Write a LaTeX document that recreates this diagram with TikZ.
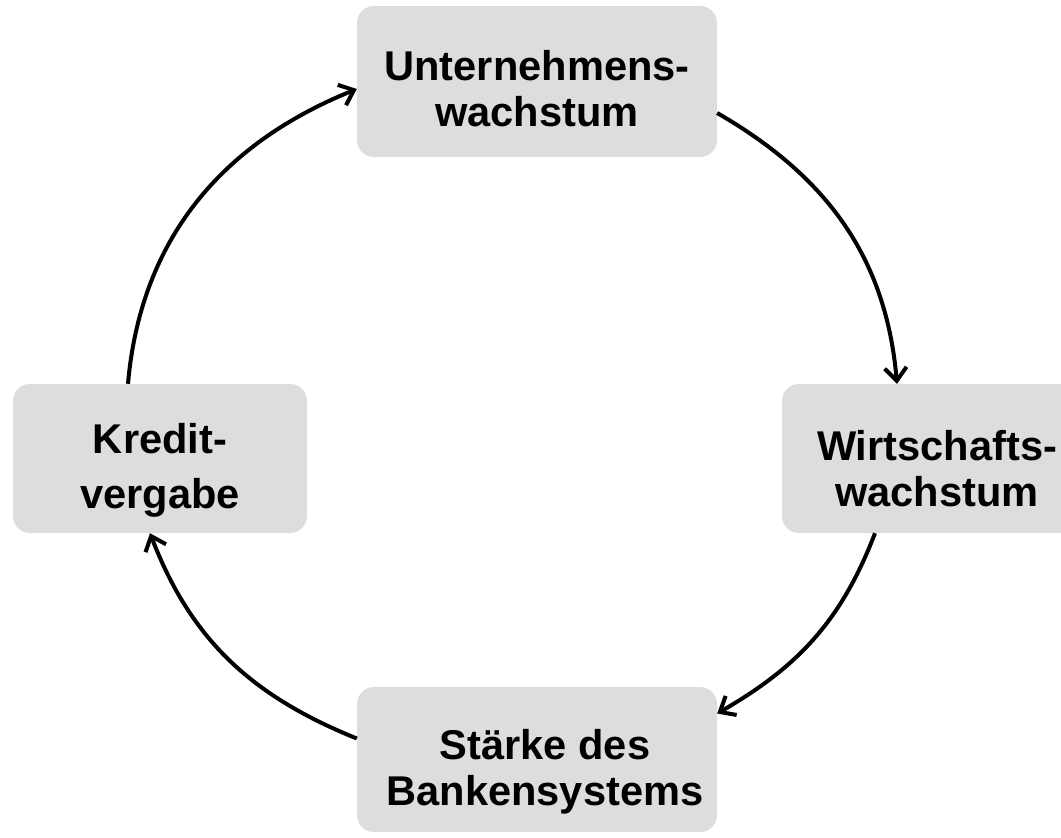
\documentclass[tikz,border=0pt]{standalone}
\usepackage{fontspec}
\setmainfont{Liberation Sans}
\usepackage{tikz}
\usetikzlibrary{arrows.meta}
\definecolor{boxgray}{RGB}{221,221,221}

\begin{document}
\begin{tikzpicture}[x=1pt,y=-1pt,
    grbox/.style={fill=boxgray,rounded corners=17pt,inner sep=0pt},
    lbl/.style={align=center,inner sep=0pt,font=\fontsize{41.6}{46}\selectfont\bfseries},
    cyc/.style={-{Straight Barb[length=13pt,width=22pt]},line width=4pt}]
    \clip (0,0) rectangle (1061,838);

    \draw (537,81.5) node[grbox,minimum width=360,minimum height=151] (unt) {};
    \draw (937,458.5) node[grbox,minimum width=310,minimum height=149] (wir) {};
    \draw (537,759.5) node[grbox,minimum width=360,minimum height=145] (ban) {};
    \draw (160,458.5) node[grbox,minimum width=294,minimum height=149] (kre) {};

    \draw (537,88.5) node[lbl] (untT) {Unternehmens-\\wachstum};
    \draw (937,468.5) node[lbl] (wirT) {Wirtschafts-\\wachstum};
    \draw (545,772) node[lbl] (banT) {Stärke des\\Bankensystems};
    \draw (160,470) node[lbl] (kreT) {Kredit-\\[9pt]vergabe};

    % kreislauf
    \path[cyc] ([yshift=-31.5pt]unt.east) edge[out=-30,in=95] ([xshift=-40pt]wir.north);
    \path[cyc] ([xshift=-62pt]wir.south) edge[out=-111,in=30] ([yshift=46pt]ban.east);
    \path[cyc] ([yshift=21pt]ban.west) edge[out=158,in=-69] ([xshift=-10pt]kre.south);
    \path[cyc] ([xshift=-32pt]kre.north) edge[out=85,in=-158] ([yshift=-7.5pt]unt.west);
\end{tikzpicture}
\end{document}
